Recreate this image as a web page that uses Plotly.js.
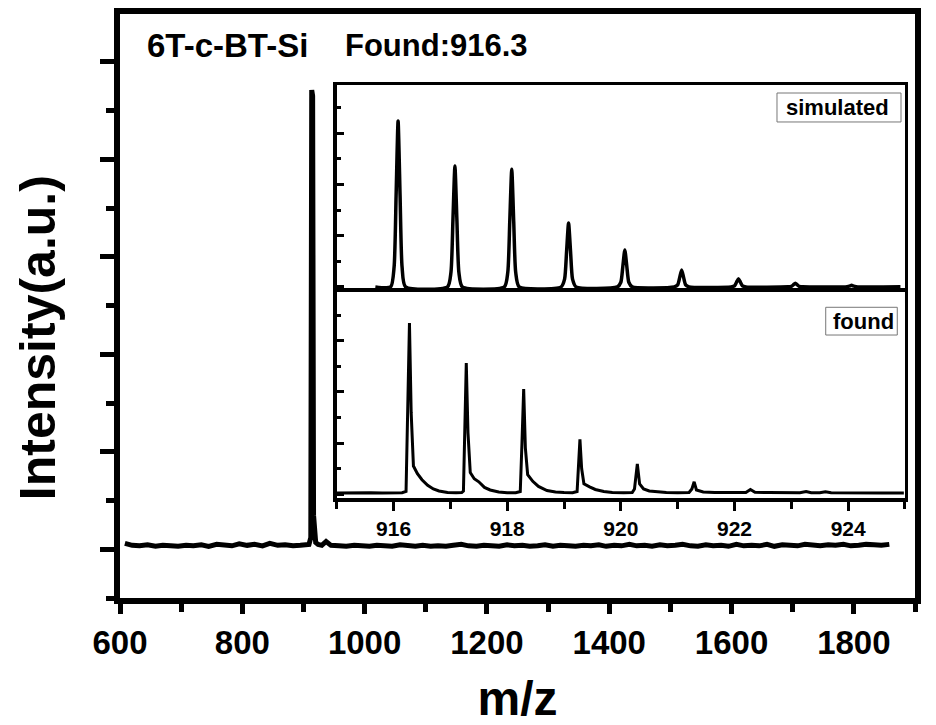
<!DOCTYPE html>
<html>
<head>
<meta charset="utf-8">
<script src="https://cdn.plot.ly/plotly-3.0.1.min.js"></script>
<style>html,body{margin:0;padding:0;background:#fff;}#chart{width:936px;height:725px;}</style>
</head>
<body>
<div id="chart"></div>
<script>
// ---- Main MALDI spectrum (m/z vs intensity, arbitrary units) ----
var mainMz = [
 608,620,632,645,658,670,683,695,708,720,
 733,745,758,770,783,795,808,820,833,845,
 858,870,883,895,903,909,912,913.5,915,916.5,
 918,920,924,930,937,945,958,970,983,995,
 1008,1020,1033,1045,1058,1070,1083,1095,1108,1120,
 1133,1145,1158,1170,1183,1195,1208,1220,1233,1245,
 1258,1270,1283,1295,1308,1320,1333,1345,1358,1370,
 1383,1395,1408,1420,1433,1445,1458,1470,1483,1495,
 1508,1520,1533,1545,1558,1570,1583,1595,1608,1620,
 1633,1645,1658,1670,1683,1695,1708,1720,1733,1745,
 1758,1770,1783,1795,1808,1820,1833,1845,1858
];
var mainIntensity = [
 0.06,0.04,0.035,0.045,0.03,0.04,0.035,0.03,0.04,0.035,
 0.045,0.03,0.05,0.04,0.035,0.055,0.04,0.05,0.035,0.06,
 0.04,0.045,0.035,0.04,0.04,0.05,0.12,4.71,4.65,0.35,
 0.12,0.07,0.05,0.04,0.08,0.04,0.035,0.03,0.04,0.035,
 0.03,0.04,0.035,0.03,0.045,0.035,0.03,0.04,0.03,0.035,
 0.03,0.04,0.05,0.035,0.03,0.04,0.035,0.03,0.045,0.035,
 0.04,0.03,0.035,0.045,0.03,0.04,0.035,0.03,0.04,0.035,
 0.045,0.03,0.04,0.035,0.05,0.035,0.04,0.03,0.045,0.035,
 0.04,0.05,0.035,0.03,0.045,0.035,0.04,0.03,0.05,0.035,
 0.04,0.035,0.05,0.03,0.045,0.04,0.035,0.05,0.04,0.035,
 0.045,0.04,0.05,0.035,0.04,0.05,0.045,0.04,0.05
];

// ---- Inset, upper panel: simulated isotope pattern ----
var simMz = [
 915.68,
 915.95,916.01,916.045,916.08,916.115,916.15,916.21,
 916.95,917.01,917.045,917.08,917.115,917.15,917.21,
 917.95,918.01,918.045,918.08,918.115,918.15,918.21,
 918.95,919.01,919.045,919.08,919.115,919.15,919.21,
 919.94,920.00,920.035,920.07,920.105,920.14,920.20,
 920.94,921.00,921.035,921.07,921.105,921.14,921.20,
 921.94,922.00,922.035,922.07,922.105,922.14,922.20,
 922.94,923.00,923.035,923.07,923.105,923.14,923.20,
 923.95,924.02,924.06,924.10,924.17,
 924.92
];
var simIntensity = [
 0,
 0,0.39,1.78,3.24,1.78,0.39,0,
 0,0.28,1.30,2.36,1.30,0.28,0,
 0,0.28,1.27,2.30,1.27,0.28,0,
 0,0.15,0.69,1.25,0.69,0.15,0,
 0,0.09,0.40,0.72,0.40,0.09,0,
 0,0.04,0.18,0.33,0.18,0.04,0,
 0,0.02,0.09,0.16,0.09,0.02,0,
 0,0.01,0.04,0.07,0.04,0.01,0,
 0,0.015,0.03,0.015,0,
 0
];

// ---- Inset, lower panel: found (measured) isotope pattern ----
var foundMz = [
 915.0,915.2,915.4,915.6,915.8,916.0,916.15,916.22,916.25,916.28,916.31,916.35,916.42,916.5,916.6,916.7,916.8,916.95,
 917.1,917.2,917.23,917.255,917.28,917.31,917.35,917.42,917.5,917.6,917.7,917.85,
 918.0,918.15,918.23,918.26,918.29,918.32,918.36,918.45,918.55,918.7,918.85,
 919.0,919.15,919.23,919.255,919.28,919.31,919.35,919.45,919.55,919.7,919.85,
 920.05,920.2,920.24,920.29,920.33,920.4,920.5,920.65,920.8,
 921.0,921.2,921.25,921.29,921.33,921.45,921.65,921.9,
 922.2,922.28,922.36,922.6,922.9,
 923.15,923.26,923.35,923.5,923.6,923.7,
 924.0,924.3,924.6,924.98
];
var foundIntensity = [
 0.02,0.025,0.02,0.025,0.02,0.02,0.025,0.05,1.5,3.35,1.6,0.55,0.4,0.28,0.17,0.1,0.06,0.03,
 0.025,0.03,0.06,1.3,2.57,1.2,0.42,0.3,0.24,0.13,0.08,0.04,
 0.025,0.025,0.05,1.0,2.06,0.9,0.38,0.25,0.15,0.07,0.04,
 0.03,0.025,0.05,0.5,1.07,0.5,0.2,0.14,0.09,0.05,0.03,
 0.025,0.03,0.1,0.59,0.2,0.1,0.06,0.04,0.03,
 0.025,0.03,0.1,0.24,0.08,0.04,0.03,0.025,
 0.03,0.09,0.035,0.03,0.025,
 0.025,0.05,0.025,0.025,0.045,0.025,
 0.02,0.025,0.02,0.02
];

var xTickVals = [600,800,1000,1200,1400,1600,1800];
var insetTickVals = [916,918,920,922,924];

var FONT = 'Liberation Sans, Arial, Helvetica, sans-serif';

var traces = [
  {x: mainMz, y: mainIntensity, type: 'scatter', mode: 'lines',
   line: {color: '#000', width: 5}, xaxis: 'x', yaxis: 'y', hoverinfo: 'x+y'},
  {x: simMz, y: simIntensity, type: 'scatter', mode: 'lines',
   line: {color: '#000', width: 3.5, shape: 'spline', smoothing: 0.6}, xaxis: 'x2', yaxis: 'y2'},
  {x: foundMz, y: foundIntensity, type: 'scatter', mode: 'lines',
   line: {color: '#000', width: 3}, xaxis: 'x3', yaxis: 'y3'}
];

var insetDomainX = [0.2726, 0.9874];

var layout = {
  width: 936, height: 725,
  margin: {l: 120, r: 21, t: 14, b: 127, pad: 0},
  paper_bgcolor: '#ffffff', plot_bgcolor: '#ffffff',
  showlegend: false,
  font: {family: FONT, color: '#000'},
  xaxis: {
    range: [600, 1900], domain: [0, 1], anchor: 'y',
    tickmode: 'array', tickvals: xTickVals, ticktext: xTickVals.map(String),
    ticks: 'outside', ticklen: 10, tickwidth: 5, tickcolor: '#000',
    minor: {dtick: 100, tick0: 600, ticks: 'outside', ticklen: 8, tickwidth: 5, tickcolor: '#000'},
    tickfont: {family: FONT, size: 33, weight: 'bold', color: '#000'},
    showline: true, linewidth: 6, linecolor: '#000', mirror: true,
    showgrid: false, zeroline: false,
    title: {text: 'm/z', font: {family: FONT, size: 48, weight: 'bold', color: '#000'}, standoff: 30}
  },
  yaxis: {
    range: [-0.5, 5.49], domain: [0, 1], anchor: 'x',
    tick0: 0, dtick: 1, ticks: 'outside', ticklen: 14, tickwidth: 5, tickcolor: '#000',
    minor: {dtick: 0.5, tick0: 0, ticks: 'outside', ticklen: 8, tickwidth: 5, tickcolor: '#000'},
    showticklabels: false,
    showline: true, linewidth: 6, linecolor: '#000', mirror: true,
    showgrid: false, zeroline: false
  },
  xaxis2: {
    range: [915, 925], domain: insetDomainX, anchor: 'y2',
    tick0: 915, dtick: 1, ticks: 'outside', ticklen: 8, tickwidth: 3, tickcolor: '#000',
    showticklabels: false,
    showline: true, linewidth: 3.5, linecolor: '#000', mirror: true,
    showgrid: false, zeroline: false
  },
  yaxis2: {
    range: [-0.1, 3.94], domain: [0.524, 0.878], anchor: 'x2',
    tick0: 0, dtick: 1, ticks: 'inside', ticklen: 7, tickwidth: 3, tickcolor: '#000',
    minor: {dtick: 0.5, tick0: 0, ticks: 'inside', ticklen: 4, tickwidth: 3, tickcolor: '#000'},
    showticklabels: false,
    showline: true, linewidth: 3.5, linecolor: '#000', mirror: true,
    showgrid: false, zeroline: false
  },
  xaxis3: {
    range: [915, 925], domain: insetDomainX, anchor: 'y3',
    tickmode: 'array', tickvals: insetTickVals, ticktext: insetTickVals.map(String),
    ticks: 'outside', ticklen: 9, tickwidth: 3, tickcolor: '#000',
    minor: {dtick: 1, tick0: 915, ticks: 'outside', ticklen: 7, tickwidth: 3, tickcolor: '#000'},
    tickfont: {family: FONT, size: 21, weight: 'bold', color: '#000'},
    showline: true, linewidth: 3.5, linecolor: '#000', mirror: true,
    showgrid: false, zeroline: false
  },
  yaxis3: {
    range: [-0.08, 3.96], domain: [0.171, 0.524], anchor: 'x3',
    tick0: 0, dtick: 1, ticks: 'inside', ticklen: 7, tickwidth: 3, tickcolor: '#000',
    minor: {dtick: 0.5, tick0: 0, ticks: 'inside', ticklen: 4, tickwidth: 3, tickcolor: '#000'},
    showticklabels: false,
    showline: true, linewidth: 3.5, linecolor: '#000', mirror: true,
    showgrid: false, zeroline: false
  },
  shapes: [
    {type: 'rect', xref: 'paper', yref: 'paper', x0: 0.8264, x1: 0.9824, y0: 0.8151, y1: 0.8647,
     line: {color: '#777', width: 1}, fillcolor: 'rgba(0,0,0,0)'},
    {type: 'rect', xref: 'paper', yref: 'paper', x0: 0.8877, x1: 0.9777, y0: 0.4503, y1: 0.4978,
     line: {color: '#777', width: 1}, fillcolor: 'rgba(0,0,0,0)'}
  ],
  annotations: [
    {text: '6T-c-BT-Si', xref: 'paper', yref: 'paper', x: 0.0314, y: 0.9469,
     xanchor: 'left', yanchor: 'middle', showarrow: false,
     font: {family: FONT, size: 33, weight: 'bold', color: '#000'}},
    {text: 'Found:916.3', xref: 'paper', yref: 'paper', x: 0.2805, y: 0.9469,
     xanchor: 'left', yanchor: 'middle', showarrow: false,
     font: {family: FONT, size: 31, weight: 'bold', color: '#000'}},
    {text: 'Intensity(a.u.)', xref: 'paper', yref: 'paper', x: -0.1031, y: 0.445,
     xanchor: 'center', yanchor: 'middle', textangle: -90, showarrow: false,
     font: {family: FONT, size: 50, weight: 'bold', color: '#000'}},
    {text: 'simulated', xref: 'paper', yref: 'paper', x: 0.9026, y: 0.8399,
     xanchor: 'center', yanchor: 'middle', showarrow: false,
     font: {family: FONT, size: 22, weight: 'bold', color: '#000'}},
    {text: 'found', xref: 'paper', yref: 'paper', x: 0.9346, y: 0.4743,
     xanchor: 'center', yanchor: 'middle', showarrow: false,
     font: {family: FONT, size: 22, weight: 'bold', color: '#000'}}
  ]
};

Plotly.newPlot('chart', traces, layout, {staticPlot: true, displayModeBar: false});
</script>
</body>
</html>
